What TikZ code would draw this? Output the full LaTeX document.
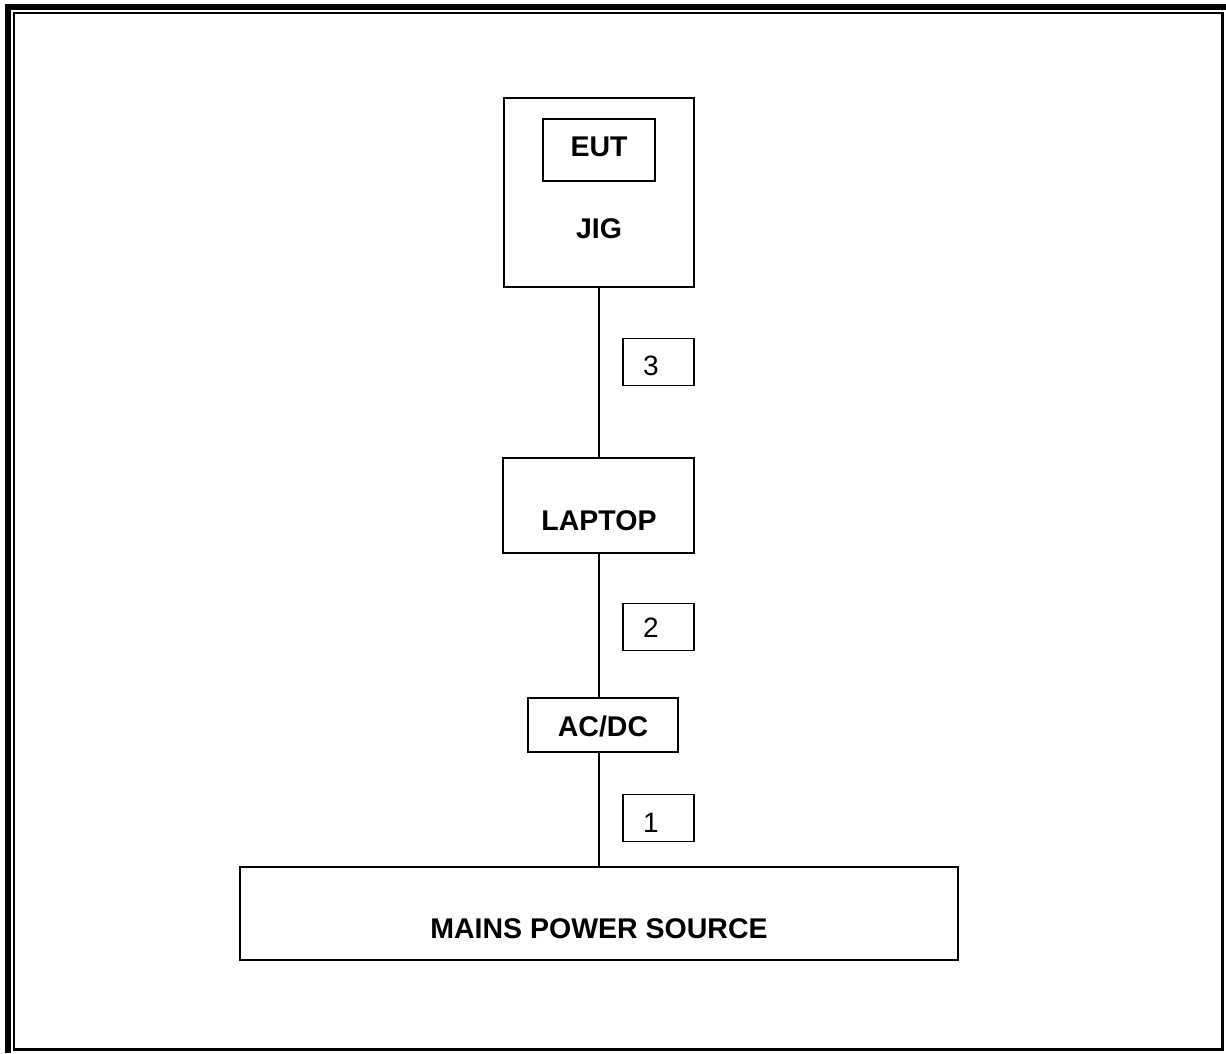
\documentclass[tikz,border=0pt]{standalone}
\usepackage{fontspec}
\setmainfont{Liberation Sans}
\usepackage{tikz}
\usetikzlibrary{positioning}

\begin{document}
\begin{tikzpicture}[x=1pt, y=-1pt,
    box/.style={draw, line width=2pt, rectangle, inner sep=0pt},
    tagbox/.style={draw, line width=1.6pt, rectangle, inner sep=0pt, minimum width=71pt, minimum height=47pt},
    btxt/.style={anchor=base, inner sep=0pt, font=\fontsize{28.5}{34}\selectfont\bfseries},
    ntxt/.style={anchor=base, inner sep=0pt, font=\fontsize{28}{34}\selectfont}]
    \useasboundingbox (0,0) rectangle (1226,1053);
    % page frame
    \draw[line width=6pt] (8,1053) -- (8,7) -- (1226,7);
    \draw[line width=2.2pt] (13.8,1049.2) -- (13.8,13.2) -- (1222.7,13.2);
    \draw[line width=3.2pt] (12.7,1049.2) -- (1222.7,1049.2) -- (1222.7,12);

    % units
    \node[box, minimum width=190pt, minimum height=189pt] (jig) at (599,192.5) {};
    \node[box, minimum width=112pt, minimum height=62pt] (eut) at (599,150) {};
    \node[box, minimum width=191pt, minimum height=95pt] (laptop) at (598.5,505.5) {};
    \node[box, minimum width=150pt, minimum height=54pt] (acdc) at (603,725) {};
    \node[box, minimum width=718pt, minimum height=93pt, line width=2.6pt] (mains) at (599,913.5) {};

    \node[btxt] (euttxt) at (599,156.5) {EUT};
    \node[btxt] (jigtxt) at (599,238) {JIG};
    \node[btxt] (laptoptxt) at (599,530) {LAPTOP};
    \node[btxt] (acdctxt) at (603,736) {AC/DC};
    \node[btxt] (mainstxt) at (599,938) {MAINS POWER SOURCE};

    % cables
    \draw[line width=2pt] (jig.south) -- (laptop.north -| jig.south);
    \draw[line width=2pt] (laptop.south -| jig.south) -- (acdc.north -| jig.south);
    \draw[line width=2pt] (acdc.south -| jig.south) -- (mains.north -| jig.south);

    % cable numbers
    \node[tagbox] (c3) at (658.5,362) {};
    \node[tagbox] (c2) at (658.5,627) {};
    \node[tagbox] (c1) at (658.5,818) {};
    \node[ntxt] (c3txt) at (651,375) {3};
    \node[ntxt] (c2txt) at (651,637) {2};
    \node[ntxt] (c1txt) at (651,832) {1};
\end{tikzpicture}
\end{document}
